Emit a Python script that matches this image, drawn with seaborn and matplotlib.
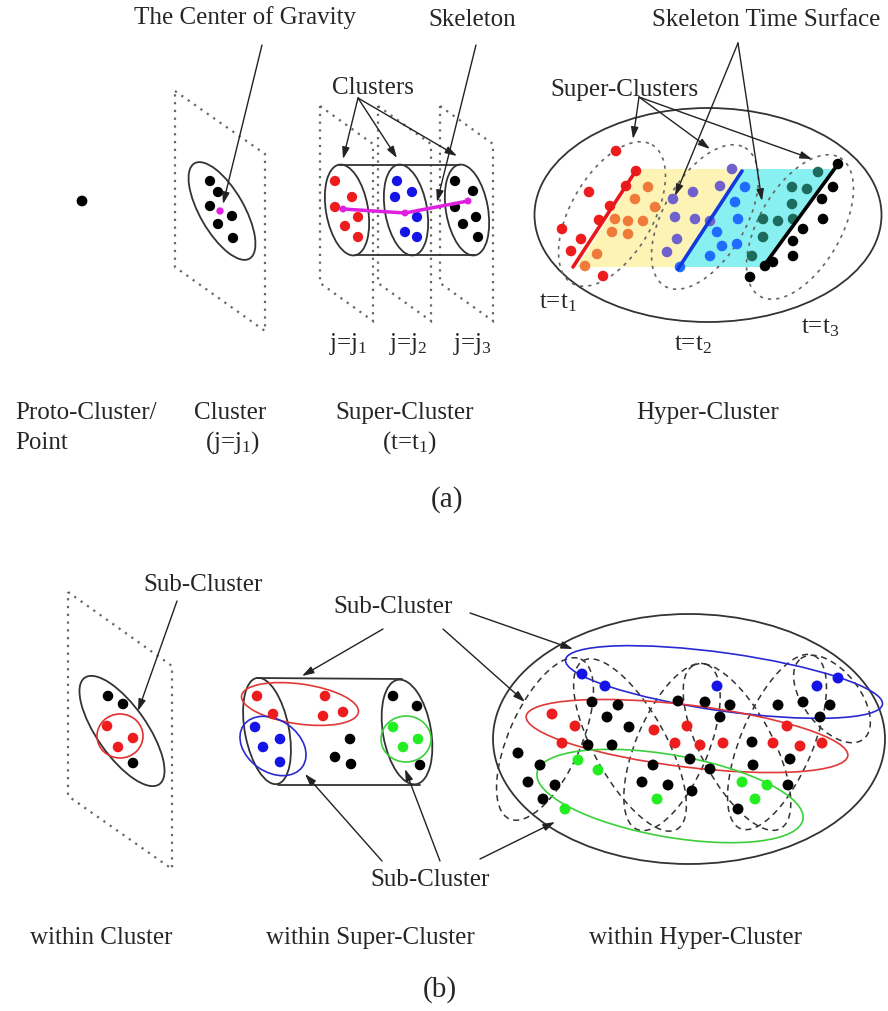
import pandas as pd
import matplotlib.pyplot as plt
import seaborn as sns
from matplotlib.patches import Ellipse, Polygon

# ---------------- data: dot positions (pixels) ----------------
# panel (a)
proto_pts = [(82, 202)]
cluster_pts = [(210, 182), (218, 193), (210, 207), (232, 217), (218, 225), (233, 239)]
cog_pts = [(220, 212)]
sc_red_pts = [(335, 182), (352, 198), (335, 208), (358, 218), (345, 227), (358, 238)]
sc_blue_pts = [(397, 182), (412, 193), (395, 198), (417, 218), (405, 233), (417, 238)]
sc_black_pts = [(455, 182), (473, 192), (455, 208), (463, 225), (476, 218), (478, 238)]
skeleton_pts = [(343, 210), (405, 214), (468, 202)]
hc_red_pts = [(616, 152), (636, 172), (626, 187), (589, 193), (610, 207), (599, 221),
              (562, 230), (581, 240), (571, 252), (603, 277)]
hc_orange_pts = [(648, 188), (635, 200), (655, 208), (615, 220), (628, 222), (643, 222),
                 (612, 233), (628, 235), (597, 255), (585, 267)]
hc_purple_pts = [(732, 170), (673, 200), (693, 193), (720, 187), (675, 218), (695, 220),
                 (710, 222), (677, 240), (667, 253)]
hc_blue_pts = [(745, 188), (735, 203), (738, 220), (717, 233), (737, 245), (722, 247),
               (710, 257), (680, 268)]
hc_teal_pts = [(818, 173), (792, 188), (807, 190), (792, 205), (763, 220), (778, 222),
               (793, 220), (763, 238), (752, 257)]
hc_black_pts = [(838, 165), (833, 188), (822, 200), (823, 220), (803, 230), (793, 242),
                (793, 257), (773, 263), (765, 267), (750, 278)]
# skeleton time surface lines (start, end)
surf_red = [(573, 268), (637, 170)]
surf_blue = [(678, 270), (742, 172)]
surf_black = [(763, 268), (838, 165)]

# panel (b)
bc_black_pts = [(108, 697), (123, 705), (133, 764)]
bc_red_pts = [(107, 727), (133, 739), (118, 748)]
bs_red_pts = [(257, 697), (273, 715), (325, 697), (323, 717), (343, 713)]
bs_blue_pts = [(255, 728), (280, 740), (263, 748), (280, 763)]
bs_black_pts = [(350, 740), (335, 758), (351, 765), (393, 697), (417, 707), (420, 766)]
bs_green_pts = [(393, 728), (418, 740), (403, 748)]
bh_blue_pts = [(582, 675), (605, 687), (717, 687), (817, 687), (838, 679)]
bh_black_pts = [(592, 703), (618, 706), (607, 718), (629, 728), (678, 702), (705, 703),
                (730, 706), (720, 718), (778, 706), (803, 703), (830, 706), (820, 718),
                (588, 746), (612, 746), (752, 743), (518, 754), (540, 766), (528, 783),
                (555, 786), (543, 800), (653, 766), (690, 760), (710, 770), (753, 766),
                (790, 760), (642, 783), (668, 786), (692, 792), (788, 786), (738, 810)]
bh_red_pts = [(552, 715), (575, 727), (562, 744), (654, 731), (687, 727), (675, 744),
              (700, 746), (723, 744), (787, 727), (773, 744), (800, 747), (822, 744)]
bh_green_pts = [(578, 761), (598, 771), (565, 810), (657, 800), (742, 783), (767, 786),
                (755, 800)]

groups = {
    'proto': (proto_pts, 'black', 60), 'cluster': (cluster_pts, 'black', 55),
    'cog': (cog_pts, '#e020e0', 28),
    'sc_red': (sc_red_pts, '#ee1c1c', 55), 'sc_blue': (sc_blue_pts, '#1414e6', 55),
    'sc_black': (sc_black_pts, 'black', 55), 'skel': (skeleton_pts, '#e020e0', 25),
    'hc_red': (hc_red_pts, '#ee1c1c', 58), 'hc_orange': (hc_orange_pts, '#f07a3a', 58),
    'hc_purple': (hc_purple_pts, '#6f62cc', 58), 'hc_blue': (hc_blue_pts, '#1f6cff', 58),
    'hc_teal': (hc_teal_pts, '#1c6b5c', 58), 'hc_black': (hc_black_pts, 'black', 58),
    'bc_black': (bc_black_pts, 'black', 58), 'bc_red': (bc_red_pts, '#ee1c1c', 58),
    'bs_red': (bs_red_pts, '#ee1c1c', 58), 'bs_blue': (bs_blue_pts, '#1414e6', 58),
    'bs_black': (bs_black_pts, 'black', 58), 'bs_green': (bs_green_pts, '#22ee22', 58),
    'bh_blue': (bh_blue_pts, '#1414e6', 62), 'bh_black': (bh_black_pts, 'black', 62),
    'bh_red': (bh_red_pts, '#ee1c1c', 62), 'bh_green': (bh_green_pts, '#22ee22', 62),
}

rows = [(x, y, g) for g, (pts, c, s) in groups.items() for x, y in pts]
df = pd.DataFrame(rows, columns=['x', 'y', 'group'])
palette = {g: v[1] for g, v in groups.items()}
sizes = {g: v[2] for g, v in groups.items()}

sns.set_style('white')
plt.rcParams['font.family'] = ['Liberation Serif', 'DejaVu Serif']
plt.rcParams['mathtext.fontset'] = 'custom'
plt.rcParams['mathtext.rm'] = 'Liberation Serif'
plt.rcParams['mathtext.default'] = 'regular'

fig = plt.figure(figsize=(8.88, 10.12), dpi=100)
ax = fig.add_axes([0, 0, 1, 1])
TXT = '#262626'
FS = 18


def ell(cx, cy, w, h, ang, color='#333', ls='-', lw=1.3, z=2):
    ax.add_patch(Ellipse((cx, cy), w, h, angle=ang, fill=False, edgecolor=color,
                         linestyle=ls, lw=lw, zorder=z))


def plane(pts):
    ax.add_patch(Polygon(pts, closed=True, fill=False, edgecolor='#666',
                         linestyle=(0, (1, 2.5)), lw=1.6, zorder=1))


def arrow(x0, y0, x1, y1):
    ax.annotate('', xy=(x1, y1), xytext=(x0, y0), zorder=5,
                arrowprops=dict(arrowstyle='-|>,head_length=0.7,head_width=0.22',
                                color='#222', lw=1.0, shrinkA=0, shrinkB=0))


def label(x, y, s, ha='center', fs=FS):
    ax.text(x, y, s, ha=ha, va='center', fontsize=fs, color=TXT, zorder=6)


# ---------------- panel (a) ----------------
plane([(175, 92), (265, 155), (265, 332), (175, 268)])
for x0 in [320, 378, 440]:
    plane([(x0, 107), (x0 + 53, 145), (x0 + 53, 322), (x0, 284)])

ell(222, 212, 44, 110, -30)

# cylinder of clusters
for cx in [347, 406, 467]:
    ell(cx, 211, 42, 92, -10)
ax.plot([339, 459], [166, 166], color='#333', lw=1.3, zorder=2)
ax.plot([355, 475], [256, 256], color='#333', lw=1.3, zorder=2)

# hyper cluster in (a)
ax.add_patch(Polygon([(577, 268), (640, 170), (742, 170), (680, 268)],
                     closed=True, facecolor='#fcf3b4', edgecolor='none', zorder=0.5))
ax.add_patch(Polygon([(680, 268), (742, 170), (837, 170), (763, 268)],
                     closed=True, facecolor='#88f0f0', edgecolor='none', zorder=0.5))
ell(708, 216, 347, 214, 0)
for cx, cy in [(612, 215), (705, 218), (800, 228)]:
    ell(cx, cy, 82, 160, 30, color='#666', ls=(0, (2, 3)), lw=1.2)
for seg, c in [(surf_red, '#e81818'), (surf_blue, '#1238e0'), (surf_black, 'black')]:
    ax.plot([seg[0][0], seg[1][0]], [seg[0][1], seg[1][1]], color=c, lw=2.6, zorder=4)

# ---------------- panel (b) ----------------
plane([(68, 593), (172, 667), (172, 870), (68, 797)])
ell(122, 732, 50, 130, -35)
ell(120, 737, 46, 44, 0, color='#e03030', lw=1.2)

ell(267, 732, 44, 108, -11)
ell(407, 733, 48, 106, -10)
ax.plot([257, 402], [679, 680], color='#333', lw=1.3, zorder=2)
ax.plot([278, 420], [786, 786], color='#333', lw=1.3, zorder=2)
ell(300, 705, 118, 40, 8, color='#e03838', lw=1.2)
ell(273, 747, 72, 52, 35, color='#2a2ad0', lw=1.2)
ell(406, 740, 50, 46, 0, color='#3ad03a', lw=1.2)

ell(689, 740, 392, 250, 0)
for cx, cy, h, w, a in [(545, 740, 175, 72, 24), (630, 746, 193, 72, -29),
                        (672, 748, 179, 72, 23), (737, 748, 185, 72, -28),
                        (777, 743, 188, 72, 23), (832, 700, 102, 56, -38)]:
    ell(cx, cy, w, h, a, color='#333', ls=(0, (4, 3)), lw=1.1)
ell(724, 683, 320, 58, 8, color='#2a2ad0', lw=1.2)
ell(687, 737, 324, 62, 7, color='#e03838', lw=1.2)
ell(670, 797, 270, 82, 10, color='#3ad03a', lw=1.2)

# ---------------- dots ----------------
sns.scatterplot(data=df, x='x', y='y', hue='group', palette=palette, size='group',
                sizes=sizes, legend=False, linewidth=0, ax=ax, zorder=3)
ax.plot([p[0] for p in skeleton_pts], [p[1] for p in skeleton_pts],
        color='#e020e0', lw=2.5, zorder=4)

# ---------------- arrows ----------------
arrow(262, 46, 223, 205)
for x1, y1 in [(343, 160), (397, 159), (457, 157)]:
    arrow(358, 99, x1, y1)
arrow(476, 46, 437, 203)
for x1, y1 in [(633, 140), (710, 150), (812, 160)]:
    arrow(639, 98, x1, y1)
for x1, y1 in [(675, 197), (762, 202)]:
    arrow(738, 44, x1, y1)

arrow(177, 602, 138, 712)
arrow(383, 630, 302, 677)
arrow(470, 614, 573, 650)
arrow(443, 630, 525, 703)
arrow(382, 862, 305, 775)
arrow(440, 862, 405, 770)
arrow(480, 860, 555, 823)

# ---------------- text ----------------
label(245, 18, 'The Center of Gravity')
label(472, 20, 'Skeleton')
label(373, 88, 'Clusters')
label(624, 90, 'Super-Clusters')
label(766, 20, 'Skeleton Time Surface')
for cx, k in [(348, 1), (408, 2), (473, 3)]:
    label(cx, 344, r'j=j$_{%d}$' % k)
label(558, 303, r't=t$_{1}$')
label(693, 345, r't=t$_{2}$')
label(820, 328, r't=t$_{3}$')

label(15, 413, 'Proto-Cluster/', ha='left')
label(15, 443, 'Point', ha='left')
label(230, 413, 'Cluster')
label(233, 443, r'(j=j$_{1}$)')
label(405, 413, 'Super-Cluster')
label(410, 443, r'(t=t$_{1}$)')
label(708, 413, 'Hyper-Cluster')
label(447, 500, '(a)', fs=21)

label(203, 585, 'Sub-Cluster')
label(393, 607, 'Sub-Cluster')
label(430, 880, 'Sub-Cluster')
label(101, 938, 'within Cluster')
label(370, 938, 'within Super-Cluster')
label(695, 938, 'within Hyper-Cluster')
label(440, 990, '(b)', fs=21)

ax.set_xlim(0, 888)
ax.set_ylim(1012, 0)
ax.axis('off')
fig.savefig('out.png', dpi=100, facecolor='white')
